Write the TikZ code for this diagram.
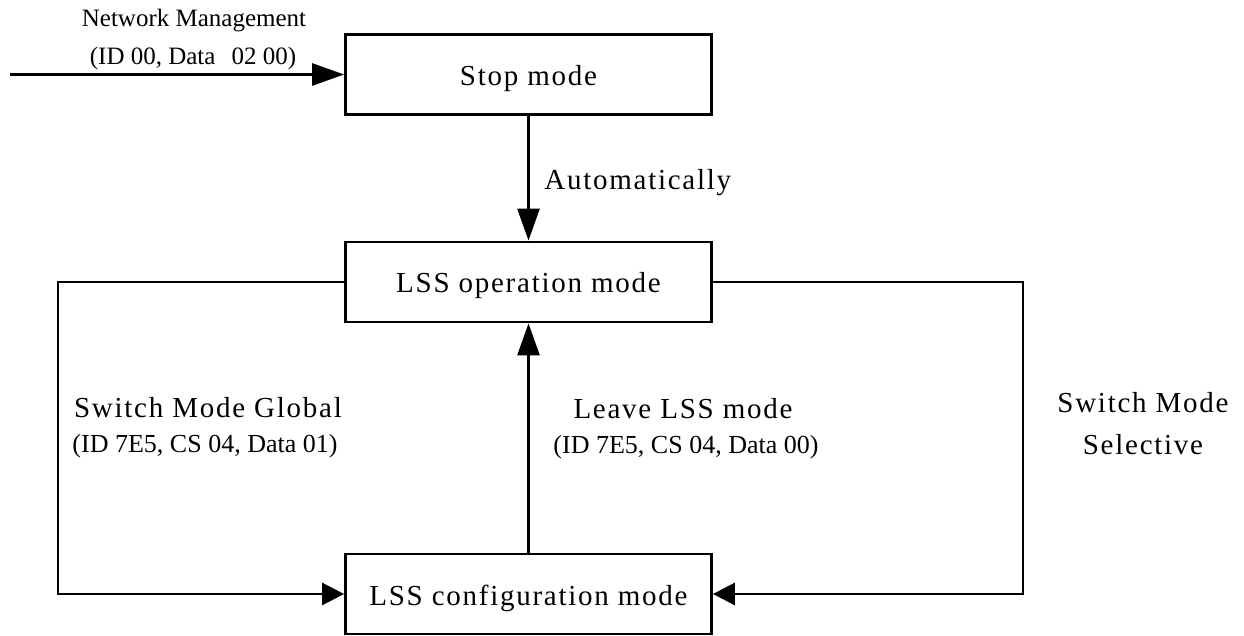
\documentclass[tikz,border=0pt]{standalone}
\usepackage{fontspec}
\setmainfont{Liberation Serif}
\newfontfamily\spacedserif[LetterSpace=6]{Liberation Serif}
\usetikzlibrary{arrows.meta}
\begin{document}
\begin{tikzpicture}[x=0.5pt,y=-0.5pt,
  line width=1.4pt,
  state/.style={draw, minimum width=183pt, minimum height=40pt, inner sep=0pt,
    text height=11pt, text depth=0pt,
    font=\spacedserif\fontsize{14.5pt}{17pt}\selectfont},
  bigarrow/.style={-{Triangle[length=16pt,width=11pt]}},
  smallarrow/.style={-{Triangle[length=11pt,width=11pt]}},
  mainlabel/.style={inner sep=0pt, anchor=base, font=\spacedserif\fontsize{14.5pt}{17pt}\selectfont},
  codelabel/.style={inner sep=0pt, anchor=base, font=\fontsize{13pt}{15pt}\selectfont},
  nmlabel/.style={inner sep=0pt, anchor=base, font=\fontsize{12.5pt}{15pt}\selectfont}]
\useasboundingbox (0,0) rectangle (1244,636);

% states
\node[state] (stop) at (528.5,74.5) {Stop mode};
\node[state] (op)   at (528.5,282)  {LSS operation mode};
\node[state] (cfg)  at (528.5,594)  {LSS configuration mode};

% loop corners and the free start of the incoming transition
\coordinate (nmstart) at (10,74.5);
\coordinate (lcorner) at (58,282);
\coordinate (rcorner) at (1023,282);

% transitions
\draw[bigarrow] (nmstart) -- (stop.west);
\draw[bigarrow] (stop.south) -- (op.north);
\draw[bigarrow] (cfg.north) -- (op.south);
\draw[smallarrow] (op.west) -- (lcorner) |- (cfg.west);
\draw[smallarrow] (op.east) -- (rcorner) |- (cfg.east);

% transition labels
\node[nmlabel] (nmtitle) at (194,27) {Network Management};
\node[nmlabel] (nmcode)  at (193,65) {(ID 00, Data\hspace{8pt}02 00)};
\node[mainlabel, anchor=base west] (auto) at (543,190) {Automatically};
\node[mainlabel] (smg)     at (208,418) {Switch Mode Global};
\node[codelabel] (smgcode) at (205,453) {(ID 7E5, CS 04, Data 01)};
\node[mainlabel] (leave)     at (683,419) {Leave LSS mode};
\node[codelabel] (leavecode) at (686,454) {(ID 7E5, CS 04, Data 00)};
\node[mainlabel] (sms1) at (1143,413) {Switch Mode};
\node[mainlabel] (sms2) at (1143,455) {Selective};
\end{tikzpicture}
\end{document}
